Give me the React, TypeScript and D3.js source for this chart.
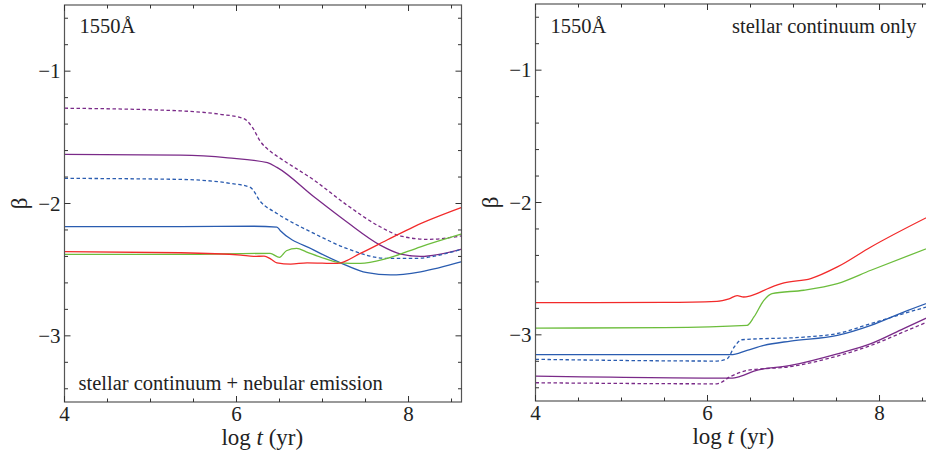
import * as d3 from "d3";
import React from "react";

// beta(1550A) vs log age; [log t, beta] pairs
// left panel: stellar continuum + nebular emission
const nebPurpleDash: [number, number][] = [
  [4, -1.28], [5.35, -1.3], [5.8, -1.325], [6.08, -1.357], [6.18, -1.42], [6.28, -1.533],
  [6.4, -1.609], [6.51, -1.659], [6.9, -1.823], [7.28, -2.01], [7.67, -2.176],
  [7.91, -2.246], [8.22, -2.271], [8.62, -2.245],
];
const nebPurple: [number, number][] = [
  [4, -1.629], [5.35, -1.635], [5.9, -1.655], [6.36, -1.692], [6.47, -1.727], [6.9, -1.949],
  [7.28, -2.138], [7.67, -2.314], [7.91, -2.382], [8.14, -2.4], [8.62, -2.345],
];
const nebBlueDash: [number, number][] = [
  [4, -1.81], [5.35, -1.818], [5.93, -1.848], [6.16, -1.878], [6.28, -1.987], [6.47, -2.075],
  [6.9, -2.226], [7.28, -2.339], [7.75, -2.415], [8.06, -2.415], [8.62, -2.345],
];
const nebBlue: [number, number][] = [
  [4, -2.175], [5.35, -2.175], [6.2, -2.172], [6.47, -2.178], [6.51, -2.206], [6.9, -2.352],
  [7.21, -2.448], [7.52, -2.523], [7.79, -2.54], [8.14, -2.516], [8.62, -2.44],
];
const nebRed: [number, number][] = [
  [4, -2.364], [5.35, -2.372], [6.05, -2.39], [6.2, -2.4], [6.32, -2.397], [6.4, -2.42],
  [6.47, -2.448], [6.63, -2.458], [6.82, -2.448], [7.17, -2.453], [7.44, -2.377],
  [7.75, -2.276], [8.06, -2.176], [8.62, -2.03],
];
const nebGreen: [number, number][] = [
  [4, -2.385], [5.35, -2.385], [6.39, -2.377], [6.5, -2.407], [6.58, -2.357], [6.7, -2.339],
  [6.81, -2.365], [7.02, -2.415], [7.21, -2.448], [7.44, -2.453], [7.75, -2.415],
  [8.14, -2.327], [8.62, -2.23],
];

// right panel: stellar continuum only
const stRed: [number, number][] = [
  [4, -2.757], [5.5, -2.755], [6.11, -2.747], [6.25, -2.728], [6.345, -2.704], [6.42, -2.714],
  [6.5, -2.705], [6.73, -2.643], [6.89, -2.608], [7.2, -2.575], [7.51, -2.487],
  [7.9, -2.336], [8.62, -2.09],
];
const stGreen: [number, number][] = [
  [4, -2.949], [5.5, -2.945], [6.46, -2.928], [6.54, -2.865], [6.655, -2.739], [6.75, -2.688],
  [7.12, -2.663], [7.51, -2.613], [7.9, -2.512], [8.62, -2.33],
];
const stBlue: [number, number][] = [
  [4, -3.15], [6.27, -3.15], [6.46, -3.117], [6.655, -3.08], [6.965, -3.047], [7.51, -3.004],
  [7.9, -2.928], [8.28, -2.828], [8.62, -2.745],
];
const stBlueDash: [number, number][] = [
  [4, -3.185], [6.11, -3.198], [6.23, -3.18], [6.31, -3.092], [6.4, -3.037], [7.12, -3.017],
  [7.51, -2.99], [7.9, -2.915], [8.28, -2.84], [8.62, -2.775],
];
const stPurple: [number, number][] = [
  [4, -3.312], [6.27, -3.327], [6.38, -3.314], [6.54, -3.274], [6.965, -3.231], [7.51, -3.143],
  [7.9, -3.067], [8.28, -2.953], [8.62, -2.85],
];
const stPurpleDash: [number, number][] = [
  [4, -3.362], [6.11, -3.37], [6.27, -3.314], [6.46, -3.269], [6.965, -3.24], [7.51, -3.16],
  [7.9, -3.08], [8.28, -2.978], [8.62, -2.885],
];

const xMajor = [4, 6, 8];
const yMajor = [-1, -2, -3];

const RED = "#f22a2a";
const GREEN = "#6cbd3c";
const BLUE = "#2a5cb0";
const PURPLE = "#7a2a88";

const FONT = "Liberation Serif";

type Series = { data: [number, number][]; color: string; dashed?: boolean };

const leftSeries: Series[] = [
  { data: nebPurpleDash, color: PURPLE, dashed: true },
  { data: nebPurple, color: PURPLE },
  { data: nebBlueDash, color: BLUE, dashed: true },
  { data: nebBlue, color: BLUE },
  { data: nebGreen, color: GREEN },
  { data: nebRed, color: RED },
];
const rightSeries: Series[] = [
  { data: stRed, color: RED },
  { data: stGreen, color: GREEN },
  { data: stBlueDash, color: BLUE, dashed: true },
  { data: stBlue, color: BLUE },
  { data: stPurpleDash, color: PURPLE, dashed: true },
  { data: stPurple, color: PURPLE },
];

const Panel = ({ id, left, top, series, labels }: {
  id: string; left: number; top: number; series: Series[];
  labels: React.ReactNode;
}) => {
  const w = 397, h = 397;
  const x = d3.scaleLinear().domain([4, 8.616]).range([0, w]);
  const y = d3.scaleLinear().domain([-3.5, -0.5]).range([h, 0]);
  const line = d3.line<[number, number]>()
    .x((d) => x(d[0]))
    .y((d) => y(d[1]))
    .curve(d3.curveMonotoneX);

  const xMinor = d3.range(4, 8.61, 0.5);
  const yMinor = d3.range(-3.4, -0.55, 0.2);
  const tick = (major: boolean) => (major ? 6 : 3.5);
  const isMajor = (v: number, arr: number[]) => arr.some((m) => Math.abs(m - v) < 1e-6);

  return (
    <g transform={`translate(${left},${top})`}>
      <defs>
        <clipPath id={id}>
          <rect x={0} y={0} width={w} height={h} />
        </clipPath>
      </defs>
      <g clipPath={`url(#${id})`} fill="none">
        {series.map((s, i) => (
          <path key={i} d={line(s.data) ?? ""} stroke={s.color} strokeWidth={1.3}
            strokeDasharray={s.dashed ? "3.5,2.5" : undefined} />
        ))}
      </g>
      <rect x={0} y={0} width={w} height={h} fill="none" stroke="#555" strokeWidth={1.2} />
      {xMinor.map((v) => {
        const m = isMajor(v, xMajor);
        return (
          <g key={"x" + v} stroke="#333" strokeWidth={1}>
            <line x1={x(v)} x2={x(v)} y1={h} y2={h - tick(m)} />
            <line x1={x(v)} x2={x(v)} y1={0} y2={tick(m)} />
          </g>
        );
      })}
      {yMinor.map((v) => {
        const m = isMajor(v, yMajor);
        return (
          <g key={"y" + v} stroke="#333" strokeWidth={1}>
            <line x1={0} x2={tick(m)} y1={y(v)} y2={y(v)} />
            <line x1={w} x2={w - tick(m)} y1={y(v)} y2={y(v)} />
          </g>
        );
      })}
      <g style={{ fontFamily: FONT }} fontSize={21} fill="#222">
        {xMajor.map((v) => (
          <text key={v} x={x(v)} y={h + 19} textAnchor="middle">{v}</text>
        ))}
        {yMajor.map((v) => (
          <text key={v} x={-4} y={y(v) + 7} textAnchor="end">{"\u2212" + Math.abs(v)}</text>
        ))}
        <text x={x(6.3)} y={h + 43} textAnchor="middle" fontSize={23}>
          log <tspan fontStyle="italic">t</tspan> (yr)
        </text>
        <text transform={`translate(${-38},${y(-2)}) rotate(-90)`} textAnchor="middle" fontSize={23}>β</text>
      </g>
      <g style={{ fontFamily: FONT }} fontSize={20.5} fill="#222">
        {labels}
      </g>
    </g>
  );
};

export default function App() {
  return (
    <svg width={926} height={457} style={{ position: "absolute", left: 0, top: 0, background: "#fff" }}>
      <Panel id="clipL" left={64.5} top={5} series={leftSeries}
        labels={<>
          <text x={15} y={28}>1550Å</text>
          <text x={14} y={385}>stellar continuum + nebular emission</text>
        </>} />
      <Panel id="clipR" left={535.5} top={4} series={rightSeries}
        labels={<>
          <text x={15} y={29}>1550Å</text>
          <text x={381} y={29} textAnchor="end">stellar continuum only</text>
        </>} />
    </svg>
  );
}
